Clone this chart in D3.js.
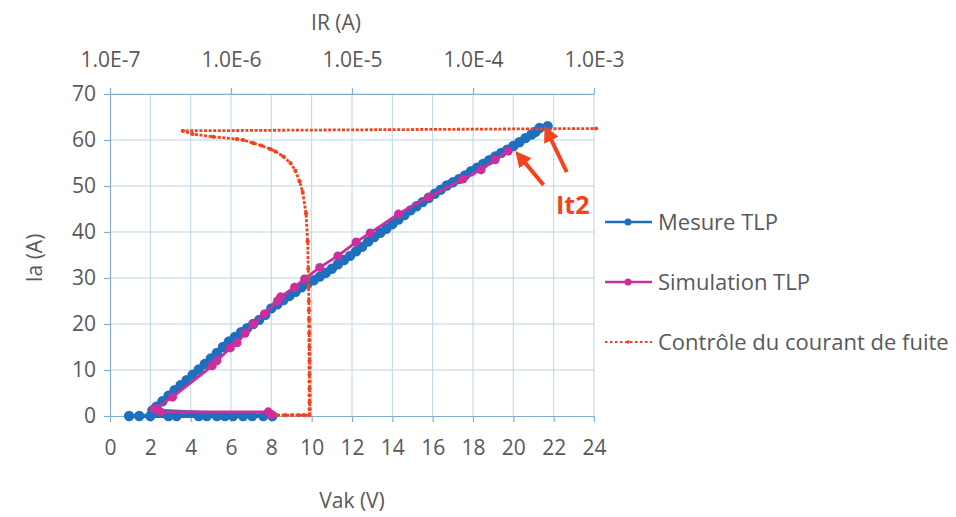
<!DOCTYPE html>
<html><head><meta charset="utf-8">
<script src="https://cdn.jsdelivr.net/npm/d3@7"></script>
<style>
html,body{margin:0;padding:0;background:#fff;}
text{font-family:"Open Sans",sans-serif;}
</style></head>
<body>
<svg id="c" width="956" height="517"></svg>
<script>
// ---- data ----
const vakTicks = [0,2,4,6,8,10,12,14,16,18,20,22,24];
const iaTicks = [0,10,20,30,40,50,60,70];
const irTicks = [1e-7,1e-6,1e-5,1e-4,1e-3];
const seriesNames = ["Mesure TLP","Simulation TLP","Contrôle du courant de fuite"];

const mesureV  = [0.95,1.45,2.0,2.9,3.3,4.4,4.8,5.3,5.7,6.1,6.6,7.05,7.6,8.05,
  2.1,2.3,2.6,2.9,3.2,3.5,3.8,4.1,4.4,4.7,5.0,5.3,5.6,5.9,6.2,6.5,6.8,7.1,7.4,7.7,8.0,8.3,8.6,8.9,9.2,9.5,9.8,
  10.1,10.4,10.7,11.0,11.3,11.6,11.9,12.2,12.5,12.8,13.1,13.4,13.7,14.0,14.3,14.6,14.9,15.2,15.5,15.8,16.1,16.4,16.7,
  17.0,17.3,17.6,17.9,18.2,18.5,18.8,19.1,19.4,19.7,20.0,20.3,20.6,20.9,21.1,21.3,21.7];
const mesureIa = [0,0,0,0,0,0,0,0,0,0,0,0,0,0,
  1.2,2.0,3.2,4.4,5.6,6.7,7.8,9.0,10.1,11.3,12.5,13.7,15.0,16.2,17.2,18.2,19.1,20.0,20.9,22.0,23.4,24.3,25.2,26.1,27.0,28.0,28.8,
  29.5,30.3,31.1,32.0,33.0,33.9,34.8,35.8,36.8,37.9,38.9,39.8,40.7,41.7,42.7,43.7,44.7,45.6,46.5,47.4,48.3,49.2,50.1,
  50.8,51.5,52.3,53.2,54.0,54.8,55.6,56.4,57.2,57.9,58.7,59.5,60.4,61.2,61.8,62.6,63.0];

const simV  = [8.0,7.85,2.5,2.2,3.1,5.07,5.3,5.97,6.3,6.7,7.1,7.66,8.3,8.46,9.15,9.65,10.4,11.3,12.2,12.9,14.3,15.8,17.5,18.4,19.1,19.75];
const simIa = [0.3,0.9,0.9,1.6,4.1,10.9,12.0,14.8,15.9,18.0,20.0,22.2,25.0,25.9,28.0,29.8,32.3,34.8,37.8,39.8,43.9,47.6,51.5,53.5,55.7,57.6];

const fuiteIR = [2.4e-6,2.8e-6,3.2e-6,3.6e-6,4.0e-6,4.45e-6,
  4.46e-6,4.46e-6,4.46e-6,4.46e-6,4.45e-6,4.45e-6,4.45e-6,4.45e-6,4.44e-6,4.44e-6,4.44e-6,4.43e-6,4.43e-6,4.42e-6,
  4.41e-6,4.40e-6,4.38e-6,4.35e-6,4.30e-6,4.17e-6,3.91e-6,3.69e-6,3.41e-6,3.10e-6,2.71e-6,2.33e-6,2.12e-6,1.78e-6,1.53e-6,
  1.26e-6,1.12e-6,7.1e-7,4.8e-7,4.0e-7,1.04e-3];
const fuiteIa = [0.2,0.2,0.2,0.2,0.2,0.2,
  1.5,3,4.5,6,7.5,9,10.5,12,13.5,15,16.5,18,19.5,21,
  23,25,28,32,38,44,48.7,51,53.3,55,56.4,57.5,58,58.8,59.3,
  60,60.2,60.7,61.3,62.0,62.5];

// annotation (data coords): arrows to It2
const arrowTail = [[21.5,50.2],[22.65,53.0]];
const arrowHead = [[20.4,56.0],[21.75,61.2]];
const it2Label = {v:22.95, ia:45.8, text:"It2"};

// ---- drawing ----
const svg = d3.select("#c");
const x = d3.scaleLinear().domain([0,24]).range([110,594]);
const y = d3.scaleLinear().domain([0,70]).range([416,94]);
const xTop = d3.scaleLog().domain([1e-7,1e-3]).range([110,594]);

const gridC="#bcd5e6", axisC="#86afcf", textC="#595959";
const blue="#1f6fbf", pink="#cc2f9c", red="#f4431c";

// grid
svg.append("g").selectAll("line").data(iaTicks.filter(d=>d>0)).join("line")
  .attr("x1",x(0)).attr("x2",x(24)).attr("y1",d=>y(d)).attr("y2",d=>y(d))
  .attr("stroke",gridC).attr("stroke-width",1);
svg.append("g").selectAll("line").data(vakTicks.filter(d=>d>0)).join("line")
  .attr("x1",d=>x(d)).attr("x2",d=>x(d)).attr("y1",y(0)).attr("y2",y(70))
  .attr("stroke",gridC).attr("stroke-width",1);

function styleAxis(g){
  g.select(".domain").attr("stroke",axisC).attr("stroke-width",1.2);
  g.selectAll(".tick line").attr("stroke",axisC).attr("stroke-width",1.2);
  g.selectAll(".tick text").attr("fill",textC).style("font-size","21px").style("font-family","'Open Sans',sans-serif");
}
const gB = svg.append("g").attr("transform",`translate(0,${y(0)})`)
  .call(d3.axisBottom(x).tickValues(vakTicks).tickSize(6).tickPadding(18).tickSizeOuter(0).tickFormat(d3.format("d")));
styleAxis(gB);
const gL = svg.append("g").attr("transform",`translate(${x(0)},0)`)
  .call(d3.axisLeft(y).tickValues(iaTicks).tickSize(6).tickPadding(8).tickSizeOuter(0).tickFormat(d3.format("d")));
styleAxis(gL);
const gT = svg.append("g").attr("transform",`translate(0,${y(70)})`)
  .call(d3.axisTop(xTop).tickValues(irTicks).tickSize(6).tickPadding(21).tickSizeOuter(0)
    .tickFormat(d=>"1.0E"+Math.round(Math.log10(d))));
styleAxis(gT);

// axis titles
svg.append("text").attr("x",336).attr("y",30).attr("text-anchor","middle")
  .attr("fill",textC).style("font-size","21px").text("IR (A)");
svg.append("text").attr("transform",`translate(42,258) rotate(-90)`).attr("text-anchor","middle")
  .attr("fill",textC).style("font-size","21px").text("Ia (A)");
svg.append("text").attr("x",352).attr("y",508).attr("text-anchor","middle")
  .attr("fill",textC).style("font-size","21px").text("Vak (V)");

// series
const mesure = mesureV.map((v,i)=>[v,mesureIa[i]]);
const sim = simV.map((v,i)=>[v,simIa[i]]);
const fuite = fuiteIR.map((r,i)=>[r,fuiteIa[i]]);
const lineV = d3.line().x(d=>x(d[0])).y(d=>y(d[1]));
const lineF = d3.line().x(d=>xTop(d[0])).y(d=>y(d[1]));

svg.append("path").attr("d",lineV(mesure)).attr("fill","none").attr("stroke",blue).attr("stroke-width",4);
svg.append("g").selectAll("circle").data(mesure).join("circle")
  .attr("cx",d=>x(d[0])).attr("cy",d=>y(d[1])).attr("r",5.2).attr("fill",blue);

svg.append("path").attr("d",lineV(sim)).attr("fill","none").attr("stroke",pink).attr("stroke-width",2.8);
svg.append("g").selectAll("circle").data(sim).join("circle")
  .attr("cx",d=>x(d[0])).attr("cy",d=>y(d[1])).attr("r",4.5).attr("fill",pink);

svg.append("path").attr("d",lineF(fuite)).attr("fill","none").attr("stroke",red)
  .attr("stroke-width",2.8).attr("stroke-dasharray","3 1.6");
svg.append("g").selectAll("circle").data(fuite).join("circle")
  .attr("cx",d=>xTop(d[0])).attr("cy",d=>y(d[1])).attr("r",2.1).attr("fill",red);

// annotation arrows
const defs = svg.append("defs");
defs.append("marker").attr("id","ah").attr("viewBox","0 0 10 10").attr("refX",4).attr("refY",5)
  .attr("markerWidth",4).attr("markerHeight",4).attr("orient","auto")
  .append("path").attr("d","M0,0 L10,5 L0,10 z").attr("fill",red);
svg.append("g").selectAll("line").data(arrowTail).join("line")
  .attr("x1",d=>x(d[0])).attr("y1",d=>y(d[1]))
  .attr("x2",(d,i)=>x(arrowHead[i][0])).attr("y2",(d,i)=>y(arrowHead[i][1]))
  .attr("stroke",red).attr("stroke-width",4).attr("marker-end","url(#ah)");
svg.append("text").attr("x",x(it2Label.v)).attr("y",y(it2Label.ia)).attr("text-anchor","middle")
  .attr("dy","0.35em").attr("fill",red).style("font-size","25px").style("font-weight","bold").text(it2Label.text);

// legend
const legY=[222,282,342];
const lg = svg.append("g");
seriesNames.forEach((n,i)=>{
  const c=[blue,pink,red][i];
  const l = lg.append("line").attr("x1",605).attr("x2",652).attr("y1",legY[i]).attr("y2",legY[i])
    .attr("stroke",c).attr("stroke-width",i==2?2.2:2.5);
  if(i==2) l.attr("stroke-dasharray","2.5 2.5");
  lg.append("circle").attr("cx",628).attr("cy",legY[i]).attr("r",i==2?1.8:3.5).attr("fill",c);
  lg.append("text").attr("x",658).attr("y",legY[i]).attr("dy","0.35em").attr("fill",textC)
    .style("font-size","22px").text(n);
});
</script>
</body></html>
